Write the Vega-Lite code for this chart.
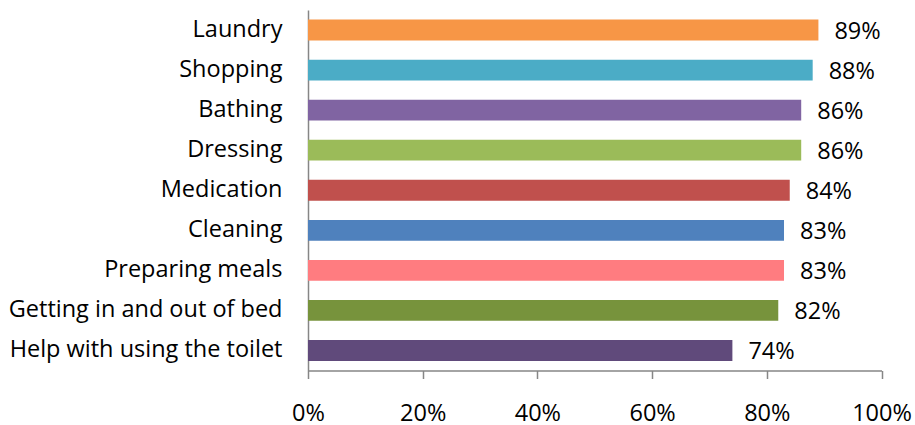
{
  "$schema": "https://vega.github.io/schema/vega-lite/v6.json",
  "width": 573.5,
  "height": 360.5,
  "autosize": {"type": "none"},
  "padding": {"left": 308, "top": 10, "right": 33.5, "bottom": 54.5},
  "background": "white",
  "config": {
    "view": {"stroke": null},
    "font": "Open Sans",
    "axis": {"grid": false, "domainColor": "#868686", "domainWidth": 1.5, "tickColor": "#868686", "tickWidth": 1.5, "labelColor": "black", "labelFont": "Open Sans", "labelFontSize": 23.5}
  },
  "data": {
    "values": [
      {"task": "Laundry", "pct": 89, "color": "#F79646"},
      {"task": "Shopping", "pct": 88, "color": "#4BACC6"},
      {"task": "Bathing", "pct": 86, "color": "#8064A2"},
      {"task": "Dressing", "pct": 86, "color": "#9BBB59"},
      {"task": "Medication", "pct": 84, "color": "#C0504D"},
      {"task": "Cleaning", "pct": 83, "color": "#4F81BD"},
      {"task": "Preparing meals", "pct": 83, "color": "#FF7C80"},
      {"task": "Getting in and out of bed", "pct": 82, "color": "#77933C"},
      {"task": "Help with using the toilet", "pct": 74, "color": "#604A7B"}
    ]
  },
  "encoding": {
    "y": {
      "field": "task", "type": "nominal", "sort": null, "title": null,
      "scale": {"paddingInner": 0.48, "paddingOuter": 0.24},
      "axis": {"ticks": false, "labelPadding": 26, "labelLimit": 400}
    },
    "x": {
      "field": "pct", "type": "quantitative", "title": null,
      "scale": {"domain": [0, 100], "nice": false},
      "axis": {"values": [0, 20, 40, 60, 80, 100], "labelExpr": "datum.value + '%'", "tickSize": 8, "labelPadding": 23, "labelBaseline": "top", "labelFlush": false}
    }
  },
  "layer": [
    {"mark": {"type": "bar"}, "encoding": {"color": {"field": "color", "type": "nominal", "scale": null, "legend": null}}},
    {"mark": {"type": "text", "align": "left", "baseline": "middle", "dx": 16, "dy": 2, "fontSize": 23.5, "color": "black", "text": {"expr": "datum.pct + '%'"}}}
  ]
}
